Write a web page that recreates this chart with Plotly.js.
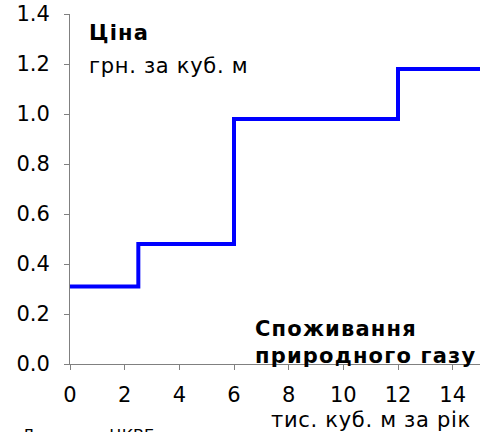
<!DOCTYPE html>
<html>
<head>
<meta charset="utf-8">
<script src="https://cdn.plot.ly/plotly-3.0.1.min.js"></script>
<style>
  body { margin: 0; background: #fff; }
  #chart { width: 490px; height: 432px; }
</style>
</head>
<body>
<div id="chart"></div>
<script>
// Тариф на газ залежно від обсягу споживання
const obsyag = [0, 2.5, 6, 12, 15];          // тис. куб. м за рік
const tsina = [0.31, 0.48, 0.98, 1.18, 1.18]; // грн. за куб. м

const xTicks = [0, 2, 4, 6, 8, 10, 12, 14];
const yTicks = [0, 0.2, 0.4, 0.6, 0.8, 1.0, 1.2, 1.4];

const shryft = 'Verdana, "DejaVu Sans", sans-serif';

// trochy shyrshyi tekst, yak u Verdana
function zhyrnyi(t) { return '<span style="letter-spacing:1.2px"><b>' + t + '</b></span>'; }
function zvych(t) { return '<span style="letter-spacing:0.7px">' + t + '</span>'; }

const trace = {
    x: obsyag,
    y: tsina,
    type: 'scatter',
    mode: 'lines',
    line: { shape: 'hv', color: '#0000ff', width: 4 },
    hoverinfo: 'skip'
};

const layout = {
    width: 490,
    height: 432,
    margin: { l: 70, r: 10, t: 14, b: 68 },
    paper_bgcolor: '#ffffff',
    plot_bgcolor: '#ffffff',
    showlegend: false,
    font: { family: shryft, size: 21, color: '#000000' },
    xaxis: {
        range: [0, 15],
        tickvals: xTicks,
        ticks: 'outside',
        ticklen: 5,
        tickcolor: '#808080',
        showline: true,
        linecolor: '#808080',
        linewidth: 1,
        showgrid: false,
        zeroline: false,
        ticklabelstandoff: 7,
        tickfont: { family: shryft, size: 21, color: '#000000' }
    },
    yaxis: {
        range: [0, 1.4],
        tickvals: yTicks,
        tickformat: '.1f',
        ticks: 'outside',
        ticklen: 5,
        tickcolor: '#808080',
        showline: true,
        linecolor: '#808080',
        linewidth: 1,
        showgrid: false,
        zeroline: false,
        ticklabelstandoff: 10,
        tickfont: { family: shryft, size: 21, color: '#000000' }
    },
    annotations: [
        { text: zhyrnyi('Ціна'), xref: 'paper', yref: 'paper', x: 0.041, y: 0.946,
          xanchor: 'left', yanchor: 'middle', showarrow: false },
        { text: zvych('грн. за куб. м'), xref: 'paper', yref: 'paper', x: 0.041, y: 0.851,
          xanchor: 'left', yanchor: 'middle', showarrow: false },
        { text: zhyrnyi('Споживання'), xref: 'paper', yref: 'paper', x: 0.446, y: 0.1,
          xanchor: 'left', yanchor: 'middle', showarrow: false },
        { text: zhyrnyi('природного газу'), xref: 'paper', yref: 'paper', x: 0.446, y: 0.022,
          xanchor: 'left', yanchor: 'middle', showarrow: false },
        { text: zvych('тис. куб. м за рік'), xref: 'paper', yref: 'paper', x: 0.982, y: -0.16,
          xanchor: 'right', yanchor: 'middle', showarrow: false },
        { text: 'Джерело: ЦКВЕ', xref: 'paper', yref: 'paper', x: -0.122, y: -0.171,
          xanchor: 'left', yanchor: 'top', showarrow: false, font: { size: 16 } }
    ]
};

Plotly.newPlot('chart', [trace], layout, { staticPlot: true, displayModeBar: false });
</script>
</body>
</html>
